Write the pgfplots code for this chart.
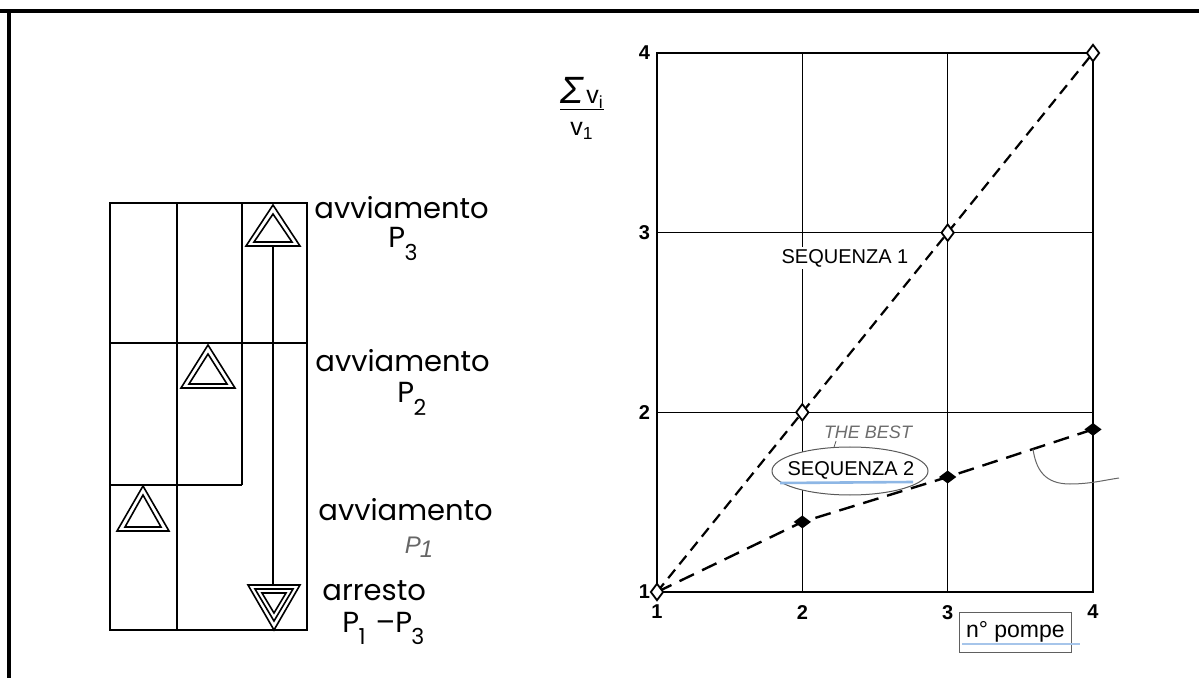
\documentclass[border=0pt]{standalone}
\usepackage{pgfplots}
\pgfplotsset{compat=1.18}
\usepackage{fontspec}
\setmainfont{Liberation Sans}
\newfontfamily\geo{Poppins}
\newcommand\sub[1]{\kern-0.3pt\raisebox{-0.42em}{\fontsize{11}{11}\selectfont#1}}
\begin{document}
\begin{tikzpicture}
% ---------------- chart ----------------
\begin{axis}[
  at={(328.5pt,43pt)}, anchor=south west,
  scale only axis, width=218pt, height=269.5pt,
  xmin=1, xmax=4, ymin=1, ymax=4,
  xtick={1,2,3,4}, ytick={1,2,3,4},
  grid=major, grid style={black, line width=0.7pt},
  axis line style={line width=1.3pt},
  major tick length=0pt,
  tick label style={font=\fontsize{10}{12}\selectfont\bfseries},
  /pgf/number format/assume math mode=true,
  xticklabel style={yshift=-3pt},
  clip=false,
  xlabel={n° pompe},
  every axis x label/.style={at={(axis description cs:0.822,-0.0742)}, anchor=center,
     font=\fontsize{11.5}{13}\selectfont, draw=gray!75!black, line width=0.4pt,
     minimum width=56pt, minimum height=20pt, inner sep=1pt},
  ylabel={\begin{tabular}{@{}c@{}}{\fontsize{19}{19}\selectfont\itshape Σ}\,{\fontsize{12.5}{12.5}\selectfont v\textsubscript{i}}\\[-1pt]\hline\rule{0pt}{13pt}{\fontsize{12.5}{12.5}\selectfont v\textsubscript{1}}\end{tabular}},
  every axis y label/.style={at={(axis description cs:-0.172,0.894)}, anchor=center},
]
\addplot[black, line width=1.2pt, dash pattern=on 8pt off 4.5pt,
  mark=diamond*, mark size=3.3pt, mark indices={2,3,4},
  mark options={solid, fill=black, rotate=90}]
  coordinates {(1,1) (2,1.39) (3,1.64) (4,1.905)};
\addplot[black, line width=1.1pt, dash pattern=on 5.5pt off 3.4pt,
  mark=diamond*, mark size=4.1pt,
  mark options={solid, fill=white, line width=0.9pt}]
  coordinates {(1,1) (2,2) (3,3) (4,4)};
\end{axis}
% ---------------- canvas (pixel coordinates) ----------------
\begin{axis}[
  at={(0pt,0pt)}, anchor=south west,
  scale only axis, width=599.5pt, height=339pt,
  xmin=0, xmax=1199, ymin=0, ymax=678, y dir=reverse,
  hide axis, clip=false]
\addplot[draw=none] coordinates {(0,0)};
% frame
\draw[line width=1.6pt] (0,11) -- (1199,11);
\draw[line width=1.6pt] (9,11) -- (9,678);
% left diagram grid
\draw[line width=0.8pt] (110,203) rectangle (307,630);
\draw[line width=0.8pt] (177,203) -- (177,630);
\draw[line width=0.8pt] (242,203) -- (242,485);
\draw[line width=0.8pt] (110,343) -- (307,343);
\draw[line width=0.8pt] (110,485) -- (242,485);
\draw[line width=0.8pt] (273,247) -- (273,585);
% triangles
\draw[line width=0.8pt, fill=white] (273,205) -- (300,246) -- (246,246) -- cycle;
\draw[line width=0.8pt] (273,214) -- (292,242) -- (254,242) -- cycle;
\draw[line width=0.8pt, fill=white] (208,345) -- (235,388) -- (181,388) -- cycle;
\draw[line width=0.8pt] (208,354) -- (227,384) -- (189,384) -- cycle;
\draw[line width=0.8pt, fill=white] (143,486) -- (169,531) -- (117,531) -- cycle;
\draw[line width=0.8pt] (143,495) -- (161,527) -- (125,527) -- cycle;
\draw[line width=0.8pt, fill=white] (248,585) -- (300,585) -- (274,630) -- cycle;
\draw[line width=0.8pt] (255,589) -- (293,589) -- (274,621) -- cycle;
\draw[line width=0.8pt] (262,593) -- (286,593) -- (274,613) -- cycle;
% labels
\begin{scope}[every node/.style={anchor=base west, inner sep=0pt, font=\geo\fontsize{14.5}{16}\selectfont}]
\node at (314,219) {avviamento};
\node at (388,248) {P\sub{3}};
\node at (315,372) {avviamento};
\node at (397,403) {P\sub{2}};
\node at (318,520) {avviamento};
\node at (322,600) {arresto};
\node at (342,632) {P\sub{1}\hspace{5pt}–P\sub{3}};
\end{scope}
\node[anchor=center, inner sep=0pt, text=gray!80!black, font=\fontsize{12}{12}\selectfont\itshape] at (419,547) {P\kern-0.5pt\raisebox{-2pt}{1}};
% chart annotations
\node[fill=white, inner sep=1pt, font=\fontsize{10}{12}\selectfont] at (845,258) {SEQUENZA 1};
\node[text=gray!85!black, font=\fontsize{9}{10}\selectfont\itshape] at (868,432) {THE BEST};
\draw[gray!70!black, line width=0.4pt] (836,441) -- (833,450);
\draw[gray!70!black, line width=0.5pt, fill=white] (850,471) ellipse [x radius=39pt, y radius=12pt];
\node[font=\fontsize{10}{12}\selectfont] at (851,470) {SEQUENZA 2};
\draw[cyan!60!blue!45, line width=1.3pt] (780,483) -- (913,482);
\draw[cyan!60!blue!35, line width=1.3pt] (962,644) -- (1080,644);
\draw[gray!80!black, line width=0.5pt] (1033,449) .. controls (1036,470) and (1045,484) .. (1070,484) .. controls (1090,484) and (1105,480) .. (1119,478);
\end{axis}
\pgfresetboundingbox
\path[use as bounding box] (0pt,0pt) rectangle (599.5pt,339pt);
\end{tikzpicture}
\end{document}
